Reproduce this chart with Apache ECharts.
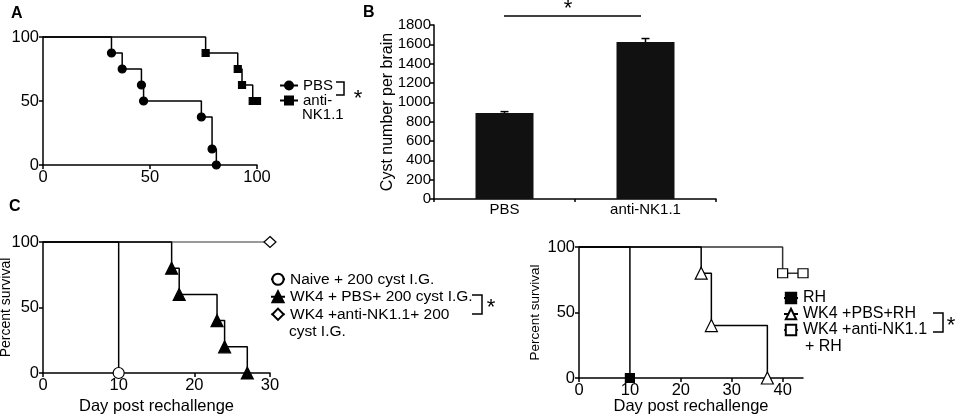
<!DOCTYPE html>
<html>
<head>
<meta charset="utf-8">
<script src="https://cdn.jsdelivr.net/npm/echarts@6/dist/echarts.min.js"></script>
<style>
html, body { margin: 0; padding: 0; background: #fff; }
#main { width: 957px; height: 419px; }
</style>
</head>
<body>
<div id="main"></div>
<script>
// A - survival, PBS vs anti-NK1.1
const aPbsDays = [0, 32, 37, 46, 47, 74, 79, 81];
const aPbsSurv = [100, 87.5, 75, 62.5, 50, 37.5, 12.5, 0];
const aNkDays = [0, 76, 91, 93, 98, 100];
const aNkSurv = [100, 87.5, 75, 62.5, 50, 50];

// B - cyst number per brain
const bGroups = ['PBS', 'anti-NK1.1'];
const bCysts = [890, 1623];
const bErr = [14, 37];

// C left - 200 cyst I.G. rechallenge
const cNaiveDays = [0, 10];
const cNaiveSurv = [100, 0];
const cPbsDays = [0, 17, 18, 23, 24, 27];
const cPbsSurv = [100, 80, 60, 40, 20, 0];
const cNkDays = [0, 30];
const cNkSurv = [100, 100];

// C right - RH rechallenge
const dRhDays = [0, 10];
const dRhSurv = [100, 0];
const dPbsDays = [0, 24, 26, 37];
const dPbsSurv = [100, 80, 40, 0];
const dNkDays = [0, 40, 44];
const dNkSurv = [100, 80, 80];

const FONT = '"Liberation Sans", Arial, sans-serif';

// first point (time 0) has no marker
function km(days, surv) {
  return days.map((d, i) => i === 0 ? { value: [d, surv[i]], symbol: 'none' } : [d, surv[i]]);
}

function survLine(name, idx, days, surv, symbol, size, fill, lineColor, z) {
  return {
    name: name,
    type: 'line',
    step: 'end',
    xAxisIndex: idx,
    yAxisIndex: idx,
    data: km(days, surv),
    symbol: symbol,
    symbolSize: size,
    clip: false,
    z: z || 2,
    lineStyle: { color: lineColor || '#000', width: 1.5 },
    itemStyle: { color: fill, borderColor: '#000', borderWidth: 1.2 }
  };
}

function axisBase(extra) {
  return Object.assign({
    nameMoveOverlap: false,
    axisLine: { show: true, onZero: false, lineStyle: { color: '#000', width: 1.5 } },
    axisTick: { show: true, length: 4, lineStyle: { color: '#000', width: 1.5 } },
    splitLine: { show: false },
    axisLabel: { color: '#000', fontSize: 16.5, fontFamily: FONT, margin: 4 },
    nameTextStyle: { color: '#000', fontFamily: FONT }
  }, extra);
}

const chart = echarts.init(document.getElementById('main'));

const option = {
  animation: false,
  backgroundColor: '#fff',
  textStyle: { fontFamily: FONT },
  grid: [
    { left: 43, top: 37, width: 214, height: 128, outerBoundsMode: 'none' },
    { left: 434, top: 25, width: 282, height: 174, outerBoundsMode: 'none' },
    { left: 43, top: 242, width: 227, height: 131, outerBoundsMode: 'none' },
    { left: 579, top: 247, width: 224, height: 131, outerBoundsMode: 'none' }
  ],
  xAxis: [
    axisBase({ type: 'value', gridIndex: 0, min: 0, max: 100, interval: 50 }),
    axisBase({
      type: 'category', gridIndex: 1, data: bGroups,
      axisTick: { show: true, length: 3, lineStyle: { color: '#000', width: 1.5 } },
      axisLabel: { color: '#000', fontSize: 15, fontFamily: FONT, margin: 3 }
    }),
    axisBase({
      type: 'value', gridIndex: 2, min: 0, max: 30, interval: 10,
      name: 'Day post rechallenge', nameLocation: 'middle', nameGap: 25,
      nameTextStyle: { color: '#000', fontFamily: FONT, fontSize: 16.5 }
    }),
    axisBase({
      type: 'value', gridIndex: 3, min: 0, max: 44,
      axisTick: { show: true, length: 4, customValues: [0, 10, 20, 30, 40], lineStyle: { color: '#000', width: 1.5 } },
      axisLabel: { color: '#000', fontSize: 16.5, fontFamily: FONT, margin: 4, customValues: [0, 10, 20, 30, 40] },
      name: 'Day post rechallenge', nameLocation: 'middle', nameGap: 20,
      nameTextStyle: { color: '#000', fontFamily: FONT, fontSize: 16.5 }
    })
  ],
  yAxis: [
    axisBase({ type: 'value', gridIndex: 0, min: 0, max: 100, interval: 50 }),
    axisBase({
      type: 'value', gridIndex: 1, min: 0, max: 1800, interval: 200,
      axisLabel: { color: '#000', fontSize: 15, fontFamily: FONT, margin: 3, formatter: v => String(v) },
      name: 'Cyst number per brain', nameLocation: 'middle', nameGap: 38,
      nameTextStyle: { color: '#000', fontFamily: FONT, fontSize: 16 }
    }),
    axisBase({
      type: 'value', gridIndex: 2, min: 0, max: 100, interval: 50,
      name: 'Percent survival', nameLocation: 'middle', nameGap: 30,
      nameTextStyle: { color: '#000', fontFamily: FONT, fontSize: 14 }
    }),
    axisBase({
      type: 'value', gridIndex: 3, min: 0, max: 100, interval: 50,
      name: 'Percent survival', nameLocation: 'middle', nameGap: 37,
      nameTextStyle: { color: '#000', fontFamily: FONT, fontSize: 13.5 }
    })
  ],
  legend: [
    {
      data: ['PBS', 'anti-NK1.1'], orient: 'vertical', left: 279, top: 78, padding: 0,
      itemGap: 0, itemWidth: 18, itemHeight: 10, selectedMode: false,
      formatter: n => n === 'anti-NK1.1' ? 'anti-' : n,
      textStyle: { color: '#000', fontSize: 15, lineHeight: 15, fontFamily: FONT }
    },
    {
      data: ['Naive + 200 cyst I.G.', 'WK4 + PBS+ 200 cyst I.G.', 'WK4 +anti-NK1.1+ 200 cyst I.G.'],
      orient: 'vertical', left: 270, top: 270.5, padding: 0,
      itemGap: 0, itemWidth: 14, itemHeight: 14, selectedMode: false,
      formatter: n => n === 'WK4 +anti-NK1.1+ 200 cyst I.G.' ? 'WK4 +anti-NK1.1+ 200' : n,
      textStyle: { color: '#000', fontSize: 15.5, lineHeight: 17.5, fontFamily: FONT }
    },
    {
      data: ['RH', 'WK4 +PBS+RH', 'WK4 +anti-NK1.1 + RH'],
      orient: 'vertical', left: 783, top: 290, padding: 0,
      itemGap: 0, itemWidth: 14, itemHeight: 13, selectedMode: false,
      formatter: n => n === 'WK4 +anti-NK1.1 + RH' ? 'WK4 +anti-NK1.1' : n,
      textStyle: { color: '#000', fontSize: 16, lineHeight: 16, fontFamily: FONT }
    }
  ],
  series: [
    survLine('PBS', 0, aPbsDays, aPbsSurv, 'circle', 8, '#000'),
    survLine('anti-NK1.1', 0, aNkDays, aNkSurv, 'rect', 7, '#000'),
    {
      name: 'Cyst number', type: 'bar', xAxisIndex: 1, yAxisIndex: 1,
      data: bCysts, barWidth: 58, itemStyle: { color: '#111' }
    },
    {
      type: 'custom', xAxisIndex: 1, yAxisIndex: 1, clip: false, z: 3,
      data: bGroups.map((g, i) => [i, bCysts[i], bCysts[i] + bErr[i]]),
      renderItem: function (params, api) {
        const lo = api.coord([api.value(0), api.value(1)]);
        const hi = api.coord([api.value(0), api.value(2)]);
        const st = { stroke: '#000', lineWidth: 1.5 };
        return {
          type: 'group',
          children: [
            { type: 'line', shape: { x1: lo[0], y1: lo[1], x2: hi[0], y2: hi[1] }, style: st },
            { type: 'line', shape: { x1: hi[0] - 4, y1: hi[1], x2: hi[0] + 4, y2: hi[1] }, style: st }
          ]
        };
      }
    },
    survLine('WK4 +anti-NK1.1+ 200 cyst I.G.', 2, cNkDays, cNkSurv, 'diamond', [12, 11], '#fff', '#777', 1),
    survLine('Naive + 200 cyst I.G.', 2, cNaiveDays, cNaiveSurv, 'circle', 11, '#fff', '#000', 2),
    survLine('WK4 + PBS+ 200 cyst I.G.', 2, cPbsDays, cPbsSurv, 'triangle', 12, '#000', '#000', 3),
    survLine('WK4 +anti-NK1.1 + RH', 3, dNkDays, dNkSurv, 'rect', [10, 9], '#fff', '#333', 1),
    survLine('RH', 3, dRhDays, dRhSurv, 'rect', 9, '#000', '#000', 2),
    survLine('WK4 +PBS+RH', 3, dPbsDays, dPbsSurv, 'triangle', 12, '#fff', '#000', 3)
  ],
  graphic: [
    // panel letters
    { type: 'text', left: 11, top: 6, style: { text: 'A', font: 'bold 16px ' + FONT, fill: '#000' } },
    { type: 'text', left: 363, top: 5, style: { text: 'B', font: 'bold 16px ' + FONT, fill: '#000' } },
    { type: 'text', left: 9, top: 199, style: { text: 'C', font: 'bold 16px ' + FONT, fill: '#000' } },
    // legend continuation lines
    { type: 'text', x: 302, y: 115, style: { text: 'NK1.1', font: '15px ' + FONT, fill: '#000', verticalAlign: 'middle' } },
    { type: 'text', x: 289, y: 332, style: { text: 'cyst I.G.', font: '15.5px ' + FONT, fill: '#000', verticalAlign: 'middle' } },
    { type: 'text', x: 805, y: 347, style: { text: '+ RH', font: '16px ' + FONT, fill: '#000', verticalAlign: 'middle' } },
    // significance brackets
    { type: 'polyline', shape: { points: [[336, 82], [344, 82], [344, 95], [336, 95]] }, style: { stroke: '#000', lineWidth: 1.5, fill: null } },
    { type: 'text', x: 358, y: 99, style: { text: '*', font: '22px ' + FONT, fill: '#000', align: 'center', verticalAlign: 'middle' } },
    { type: 'polyline', shape: { points: [[472, 295], [482, 295], [482, 314], [472, 314]] }, style: { stroke: '#000', lineWidth: 1.5, fill: null } },
    { type: 'text', x: 491, y: 308, style: { text: '*', font: '22px ' + FONT, fill: '#000', align: 'center', verticalAlign: 'middle' } },
    { type: 'polyline', shape: { points: [[933, 313], [943, 313], [943, 332], [933, 332]] }, style: { stroke: '#000', lineWidth: 1.5, fill: null } },
    { type: 'text', x: 951, y: 326, style: { text: '*', font: '22px ' + FONT, fill: '#000', align: 'center', verticalAlign: 'middle' } },
    { type: 'line', shape: { x1: 504, y1: 16, x2: 641, y2: 16 }, style: { stroke: '#000', lineWidth: 1.5 } },
    { type: 'text', x: 568, y: 9, style: { text: '*', font: '22px ' + FONT, fill: '#000', align: 'center', verticalAlign: 'middle' } }
  ]
};

chart.setOption(option);
</script>
</body>
</html>
